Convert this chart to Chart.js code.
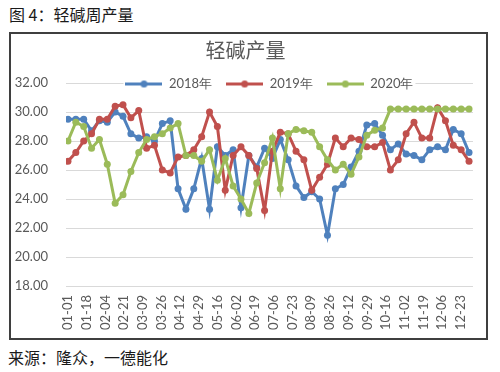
<!DOCTYPE html>
<html>
<head>
<meta charset="utf-8">
<script src="https://cdn.jsdelivr.net/npm/chart.js@4.4.1/dist/chart.umd.min.js"></script>
<style>
  body { margin: 0; width: 500px; height: 372px; background: #fff; position: relative; overflow: hidden;
         font-family: "Noto Sans CJK SC", sans-serif; }
  .caption { position: absolute; left: 9px; top: 3px; font-size: 16px; line-height: 22px; color: #1a1a1a; }
  .source { position: absolute; left: 8px; top: 346px; font-size: 16px; line-height: 22px; color: #1a1a1a; }
  .frame { position: absolute; left: 9px; top: 32px; width: 475px; height: 304px; border: 2px solid #3f3f3f; }
  canvas { display: block; }
</style>
</head>
<body>
<div class="caption">图&nbsp;4：轻碱周产量</div>
<div class="frame"><canvas id="outputChart" width="475" height="304"></canvas></div>
<div class="source">来源：隆众，一德能化</div>
<script>
// Weekly output, 52 points per year
const seriesNames = ['2018年', '2019年', '2020年'];
const seriesColors = ['#4F81BD', '#C0504D', '#9BBB59'];

const output2018 = [29.5, 29.5, 29.5, 28.7, 29.4, 29.3, 30.0, 29.7, 28.5, 28.2,
  28.3, 28.0, 29.2, 29.4, 24.7, 23.3, 24.7, 26.8, 23.3, 27.6,
  27.0, 27.4, 23.4, 27.0, 26.2, 27.5, 26.8, 28.1, 26.7, 24.9,
  24.1, 24.5, 24.0, 21.5, 24.7, 25.0, 26.2, 27.3, 29.1, 29.2,
  28.4, 27.4, 27.8, 27.1, 27.0, 26.7, 27.4, 27.6, 27.4, 28.8,
  28.5, 27.2];
const output2019 = [26.6, 27.2, 28.0, 28.5, 29.5, 29.5, 30.4, 30.5, 29.6, 30.1,
  27.5, 27.7, 26.0, 25.8, 26.9, 27.0, 27.4, 28.3, 30.0, 29.0,
  24.6, 27.0, 27.6, 27.0, 26.1, 23.2, 27.3, 28.6, 28.5, 27.3,
  26.7, 24.6, 25.5, 26.4, 28.2, 27.6, 28.2, 28.1, 27.6, 27.6,
  27.9, 26.0, 26.7, 28.5, 29.3, 28.2, 28.2, 30.3, 29.4, 27.7,
  27.4, 26.6];
const output2020 = [28.0, 29.3, 29.0, 27.5, 28.1, 26.4, 23.7, 24.3, 25.9, 27.2,
  28.1, 28.3, 28.5, 28.9, 29.2, 27.0, 27.0, 26.6, 27.4, 25.3,
  26.8, 24.9, 24.0, 23.0, 25.1, 26.5, 28.2, 24.7, 28.5, 28.8,
  28.7, 28.6, 27.6, 26.7, 26.0, 26.4, 25.7, 26.9, 28.4, 28.75,
  28.9, 30.2, 30.2, 30.2, 30.2, 30.2, 30.2, 30.2, 30.2, 30.2,
  30.2, 30.2];

const xTickLabels = ['01-01', '01-18', '02-04', '02-21', '03-09', '03-26', '04-12', '04-29',
  '05-16', '06-02', '06-19', '07-06', '07-23', '08-09', '08-26', '09-12', '09-29',
  '10-16', '11-02', '11-19', '12-06', '12-23'];
const labelEveryWeeks = 2.38;   // date labels are not on the weekly points
const yMin = 18, yMax = 32, yStep = 2;

const textGray = '#595959';
const allSeries = [output2018, output2019, output2020];

function toPoints(values) {
  return values.map((v, i) => ({ x: i, y: v }));
}

// small line + dot used as legend symbol
function legendIcon(color) {
  const c = document.createElement('canvas');
  c.width = 37; c.height = 9;
  const g = c.getContext('2d');
  g.strokeStyle = color; g.lineWidth = 3;
  g.beginPath(); g.moveTo(0, 4.5); g.lineTo(37, 4.5); g.stroke();
  g.fillStyle = color;
  g.beginPath(); g.arc(18.5, 4.5, 3.5, 0, Math.PI * 2); g.fill();
  return c;
}

// legend sits on the top gridline of the plot, on a white patch
const legendOnTop = {
  id: 'legendOnTop',
  beforeInit(chart) {
    const legend = chart.legend;
    const fit = legend.fit;
    legend.fit = function () {
      fit.call(this);
      this.height -= 17.5;
    };
    legend._layers = () => [{
      z: 1,
      draw() {
        const boxes = legend.legendHitBoxes;
        if (boxes && boxes.length) {
          const ctx = chart.ctx;
          const first = boxes[0];
          const last = boxes[boxes.length - 1];
          ctx.save();
          ctx.fillStyle = '#fff';
          ctx.fillRect(first.left - 2, first.top - 2, last.left + last.width - first.left + 4, first.height + 4);
          ctx.restore();
        }
        legend._draw();
      }
    }];
  }
};

const datasets = allSeries.map((values, i) => ({
  label: seriesNames[i],
  data: toPoints(values),
  borderColor: seriesColors[i],
  backgroundColor: seriesColors[i],
  pointBackgroundColor: seriesColors[i],
  pointBorderColor: seriesColors[i],
  borderWidth: 3,
  pointRadius: 3.5,
  pointBorderWidth: 0,
  tension: 0,
  order: allSeries.length - i
}));

new Chart(document.getElementById('outputChart'), {
  type: 'line',
  data: { datasets },
  plugins: [legendOnTop],
  options: {
    responsive: false,
    animation: false,
    layout: { padding: { left: 0, right: 6, top: 0, bottom: 0 } },
    plugins: {
      title: {
        display: true,
        text: '轻碱产量',
        color: textGray,
        font: { family: '"Noto Sans CJK SC"', size: 20, weight: 'normal' },
        padding: { top: 4, bottom: 1.5 }
      },
      legend: {
        position: 'top',
        fullSize: false,
        labels: {
          usePointStyle: true,
          pointStyleWidth: 37,
          padding: 14,
          color: textGray,
          font: { family: 'Lato', size: 13 },
          sort: (a, b) => a.datasetIndex - b.datasetIndex,
          generateLabels(chart) {
            const items = Chart.defaults.plugins.legend.labels.generateLabels(chart);
            items.forEach(it => { it.pointStyle = legendIcon(seriesColors[it.datasetIndex]); });
            return items;
          }
        }
      },
      tooltip: { enabled: false }
    },
    scales: {
      x: {
        type: 'linear',
        min: -0.25,
        max: 51.5,
        grid: { display: false, drawTicks: false },
        border: { display: false },
        afterBuildTicks(scale) {
          scale.ticks = xTickLabels.map((_, k) => ({ value: k * labelEveryWeeks }));
        },
        afterFit(scale) { scale.height = 52; },
        ticks: {
          autoSkip: false,
          minRotation: 90,
          maxRotation: 90,
          padding: 9,
          color: textGray,
          font: { family: 'Lato', size: 13 },
          callback: (value, index) => xTickLabels[index]
        }
      },
      y: {
        min: yMin,
        max: yMax,
        grid: { color: '#d9d9d9', lineWidth: 1, drawTicks: false },
        border: { display: false },
        afterFit(scale) { scale.width = 55; },
        ticks: {
          stepSize: yStep,
          padding: 18,
          color: textGray,
          font: { family: 'Lato', size: 13 },
          callback: value => value.toFixed(2)
        }
      }
    }
  }
});
</script>
</body>
</html>
